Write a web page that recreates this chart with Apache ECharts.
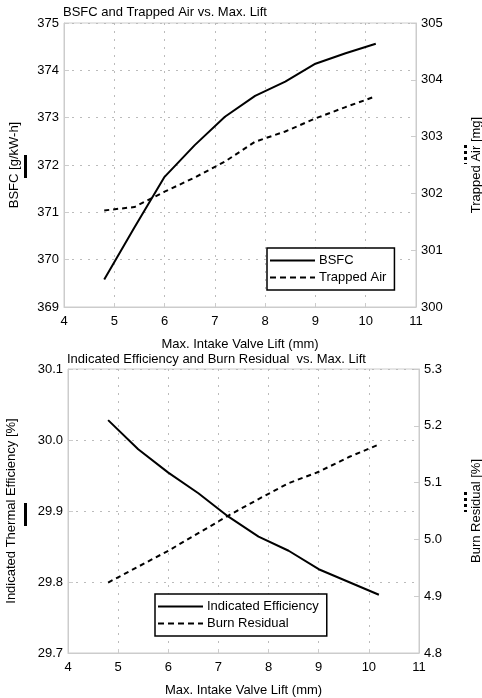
<!DOCTYPE html>
<html>
<head>
<meta charset="utf-8">
<script src="https://cdn.jsdelivr.net/npm/echarts@6/dist/echarts.min.js"></script>
<style>
  html, body { margin: 0; padding: 0; background: #fff; }
  #chart { width: 482px; height: 698px; }
</style>
</head>
<body>
<div id="chart"></div>
<script>
// max intake valve lift (mm)
const lift = [4.8, 5.4, 6.0, 6.6, 7.2, 7.8, 8.4, 9.0, 9.6, 10.2];

// top panel
const bsfc = [369.58, 370.68, 371.75, 372.42, 373.02, 373.46, 373.76, 374.14, 374.36, 374.56];
const trappedAir = [301.70, 301.76, 302.03, 302.28, 302.56, 302.91, 303.09, 303.32, 303.52, 303.71];

// bottom panel
const indicatedEff = [30.028, 29.987, 29.954, 29.925, 29.892, 29.864, 29.844, 29.818, 29.800, 29.782];
const burnResidual = [4.924, 4.952, 4.980, 5.011, 5.042, 5.071, 5.099, 5.119, 5.145, 5.167];

const font = 'Liberation Sans, Arial, sans-serif';
const chart = echarts.init(document.getElementById('chart'));

const pair = (xs, ys) => xs.map((x, i) => [x, ys[i]]);

// legend icons: plain line, no symbol
const solidIcon = 'path://M0,0H45V2H0Z';
const dashIcon = 'path://M0,0H6V2H0Z M10,0H16V2H10Z M20,0H26V2H20Z M30,0H36V2H30Z M40,0H45V2H40Z';

function xAxis(gridIndex) {
  return {
    type: 'value', gridIndex, min: 4, max: 11, interval: 1,
    name: 'Max. Intake Valve Lift (mm)', nameLocation: 'middle', nameGap: 31,
    nameTextStyle: { color: '#000', fontSize: 13, fontFamily: font },
    axisLine: { lineStyle: { color: '#ccc' } },
    axisTick: { inside: true, length: 4, lineStyle: { color: '#ccc' } },
    axisLabel: { color: '#000', fontSize: 13, fontFamily: font, margin: 8 },
    splitLine: { lineStyle: { type: [2, 6], color: '#bbb' } }
  };
}

function yAxis(gridIndex, pos, min, max, interval, name, gap, digits, grid) {
  return {
    type: 'value', gridIndex, position: pos, min, max, interval,
    name, nameLocation: 'middle', nameGap: gap,
    nameTextStyle: { color: '#000', fontSize: 13, fontFamily: font },
    axisLine: { show: true, lineStyle: { color: '#ccc' } },
    axisTick: { show: true, inside: true, length: 5, lineStyle: { color: '#ccc' } },
    axisLabel: {
      color: '#000', fontSize: 13, fontFamily: font, margin: 5,
      formatter: v => v.toFixed(digits)
    },
    splitLine: { show: grid, lineStyle: { type: [2, 6], color: '#bbb' } }
  };
}

function series(name, data, xi, yi, dashed) {
  return {
    name, type: 'line', xAxisIndex: xi, yAxisIndex: yi, data,
    symbol: 'none', silent: true,
    lineStyle: { color: '#000', width: 2, type: dashed ? [5, 4] : 'solid' },
    itemStyle: { color: '#000' }
  };
}

function legend(names, left, top) {
  return {
    data: [
      { name: names[0], icon: solidIcon },
      { name: names[1], icon: dashIcon }
    ],
    orient: 'vertical', left, top,
    borderColor: '#000', borderWidth: 1.5, backgroundColor: '#fff',
    padding: [6, 8, 6, 3], itemGap: 4, itemWidth: 45, itemHeight: 2,
    itemStyle: { color: '#000' },
    textStyle: { color: '#000', fontSize: 13, fontFamily: font, padding: [0, 0, 0, -1] },
    selectedMode: false
  };
}

const marker = (x, y1, y2, dashed) => ({
  type: 'line', shape: { x1: x, y1, x2: x, y2 },
  style: { stroke: '#000', lineWidth: 3, lineDash: dashed ? [3, 3] : null }
});

const titleStyle = { fontSize: 13, fontWeight: 'normal', color: '#000', fontFamily: font };

chart.setOption({
  animation: false,
  title: [
    { text: 'BSFC and Trapped Air vs. Max. Lift', left: 63, top: 6, padding: 0, textStyle: titleStyle },
    { text: 'Indicated Efficiency and Burn Residual  vs. Max. Lift', left: 67, top: 353, padding: 0, textStyle: titleStyle }
  ],
  grid: [
    { left: 64, right: 66, top: 23, height: 284, show: true, borderColor: '#ccc', borderWidth: 1,
      containLabel: false, outerBoundsMode: 'none' },
    { left: 68, right: 63, top: 369, height: 284, show: true, borderColor: '#ccc', borderWidth: 1,
      containLabel: false, outerBoundsMode: 'none' }
  ],
  legend: [
    legend(['BSFC', 'Trapped Air'], 267, 248),
    legend(['Indicated Efficiency', 'Burn Residual'], 155, 594)
  ],
  xAxis: [xAxis(0), xAxis(1)],
  yAxis: [
    yAxis(0, 'left', 369, 375, 1, 'BSFC [g/kW-h]', 43, 0, true),
    yAxis(0, 'right', 300, 305, 1, 'Trapped Air [mg]', 54, 0, false),
    yAxis(1, 'left', 29.7, 30.1, 0.1, 'Indicated Thermal Efficiency [%]', 50, 1, true),
    yAxis(1, 'right', 4.8, 5.3, 0.1, 'Burn Residual [%]', 51, 1, false)
  ],
  series: [
    series('BSFC', pair(lift, bsfc), 0, 0, false),
    series('Trapped Air', pair(lift, trappedAir), 0, 1, true),
    series('Indicated Efficiency', pair(lift, indicatedEff), 1, 2, false),
    series('Burn Residual', pair(lift, burnResidual), 1, 3, true)
  ],
  graphic: [
    marker(25.5, 155, 178, false),
    marker(465.5, 145, 164, true),
    marker(25.5, 503, 526, false),
    marker(465.5, 492, 512, true)
  ]
});
</script>
</body>
</html>
